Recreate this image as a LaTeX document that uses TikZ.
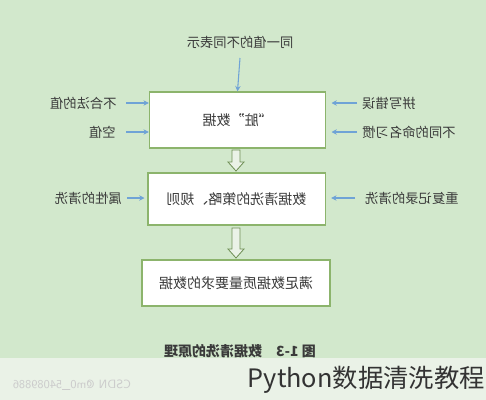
\documentclass[tikz,border=0pt]{standalone}
\usepackage{fontspec}
\usepackage{graphicx}
\newfontfamily\cjk{Noto Sans CJK SC}
\usetikzlibrary{arrows.meta}
\definecolor{bg}{HTML}{D2E8CC}
\definecolor{strip}{HTML}{EAF2E7}
\definecolor{boxline}{HTML}{8CB46C}
\definecolor{arr}{HTML}{6FA3D6}
\definecolor{txt}{HTML}{3A3A3A}
\tikzset{
  every node/.style={font=\cjk\fontsize{10}{12}\selectfont, text=txt, inner sep=0pt},
  databox/.style={draw=boxline, line width=1pt, fill=white, font=\cjk\fontsize{10.5}{12}\selectfont},
  thin arrow/.style={draw=arr, line width=0.8pt, -{Stealth[length=4pt,width=4pt]}},
  hollow/.style={draw=boxline!80!black, line width=0.6pt, fill=strip}
}
\newcommand{\hollowarrow}[3]{% x, ytop, ytip
  \path[hollow] (#1-4,#2) -- (#1+4,#2) -- (#1+4,#3-9) -- (#1+8,#3-9) -- (#1,#3) -- (#1-8,#3-9) -- (#1-4,#3-9) -- cycle;}
\begin{document}
\begin{tikzpicture}[x=0.75pt,y=-0.75pt]
\useasboundingbox (0,0) rectangle (486,400);
\fill[bg] (0,0) rectangle (486,358);
\fill[strip] (0,358) rectangle (486,400);

% top label
\node (top) at (240,42) {\reflectbox{同一值的不同表示}};
% boxes
\node[databox, minimum width=132pt, minimum height=42pt] (b1) at (237.5,120) {\reflectbox{“脏”数据}};
\node[databox, minimum width=133pt, minimum height=39pt] (b2) at (236.5,199) {\reflectbox{数据清洗的策略、规则}};
\node[databox, minimum width=141pt, minimum height=34.5pt] (b3) at (236,283) {\reflectbox{满足数据质量要求的数据}};

\draw[thin arrow] (top.south |- 0,58) -- (b1.north);

% left labels box1
\node[anchor=east] (l1) at (117,103) {\reflectbox{不合法的值}};
\node[anchor=east] (l2) at (116,132) {\reflectbox{空值}};
\draw[thin arrow] (126,103) -- (b1.west |- l1);
\draw[thin arrow] (126,132) -- (b1.west |- l2);
% right labels box1
\node[anchor=west] (r1) at (362,103) {\reflectbox{拼写错误}};
\node[anchor=west] (r2) at (362,132) {\reflectbox{不同的命名习惯}};
\draw[thin arrow] (357,103) -- ([xshift=4pt]b1.east |- r1);
\draw[thin arrow] (357,132) -- ([xshift=4pt]b1.east |- r2);

% box2 labels
\node[anchor=east] (l3) at (122,198) {\reflectbox{属性的清洗}};
\node[anchor=west] (r3) at (365,198) {\reflectbox{重复记录的清洗}};
\draw[thin arrow] (127,198) -- ([xshift=-2pt]b2.west |- l3);
\draw[thin arrow] (355,198) -- ([xshift=4pt]b2.east |- r3);

% hollow arrows
\hollowarrow{236}{150}{171}
\hollowarrow{236}{228}{258}

% caption
\node[font=\cjk\bfseries\fontsize{10.5}{12}\selectfont] (cap) at (240,351) {\reflectbox{图 1-3\quad 数据清洗的原理}};
% watermark
\node[text=black!20, font=\sffamily\fontsize{9}{10}\selectfont] (wm) at (72,385) {\reflectbox{CSDN @m0\_54089886}};
% title
\node[anchor=east, text=black!80, font=\cjk\fontsize{19}{22}\selectfont] (title) at (485,380) {Python数据清洗教程};
\end{tikzpicture}
\end{document}
